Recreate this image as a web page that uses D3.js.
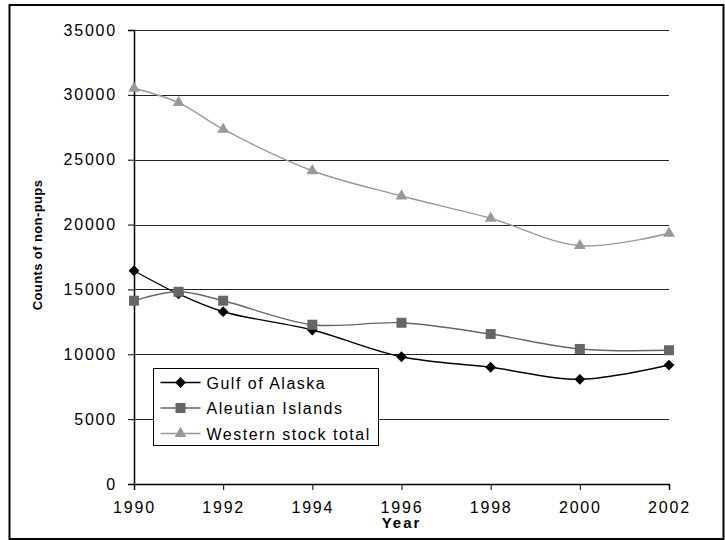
<!DOCTYPE html>
<html>
<head>
<meta charset="utf-8">
<script src="https://cdn.jsdelivr.net/npm/d3@7"></script>
<style>
  body { margin: 0; background: #fff; }
  svg { display: block; font-family: "Liberation Sans", Arial, sans-serif; }
</style>
</head>
<body>
<div id="chart"></div>
<script>
// Data
const years = [1990, 1991, 1992, 1994, 1996, 1998, 2000, 2002];
const gulfOfAlaska = [16440, 14650, 13280, 11870, 9810, 9000, 8070, 9170];
const aleutianIslands = [14130, 14820, 14130, 12280, 12430, 11560, 10410, 10310];
const westernStockTotal = [30510, 29400, 27350, 24150, 22200, 20480, 18370, 19330];
const yTicks = [0, 5000, 10000, 15000, 20000, 25000, 30000, 35000];
const xTicks = [1990, 1992, 1994, 1996, 1998, 2000, 2002];

const series = [
    { name: 'Gulf of Alaska', values: gulfOfAlaska, color: '#000', fill: '#000', shape: 'diamond' },
    { name: 'Aleutian Islands', values: aleutianIslands, color: '#666', fill: '#666', shape: 'square' },
    { name: 'Western stock total', values: westernStockTotal, color: '#999', fill: '#999', shape: 'triangle' }
];

const W = 725, H = 540;
const margin = { top: 30, right: 56, bottom: 56, left: 134 };
const width = W - margin.left - margin.right;
const height = H - margin.top - margin.bottom;

const root = d3.select('#chart').append('svg')
    .attr('width', W)
    .attr('height', H);

// Outer frame
root.append('rect')
    .attr('x', 9.5)
    .attr('y', 5)
    .attr('width', 714)
    .attr('height', 534)
    .attr('fill', '#fff')
    .attr('stroke', '#000')
    .attr('stroke-width', 2);

const svg = root.append('g')
    .attr('transform', `translate(${margin.left},${margin.top})`);

const x = d3.scaleLinear().domain([1990, 2002]).range([0, width]);
const y = d3.scaleLinear().domain([0, 35000]).range([height, 0]);

// Grid lines
svg.append('g')
    .selectAll('line')
    .data(yTicks.filter(d => d > 0))
    .enter()
    .append('line')
    .attr('x1', 0)
    .attr('x2', width)
    .attr('y1', d => Math.round(y(d)) + 0.5)
    .attr('y2', d => Math.round(y(d)) + 0.5)
    .attr('stroke', '#222')
    .attr('stroke-width', 1);

// Y axis
const yAxis = svg.append('g')
    .call(d3.axisLeft(y).tickValues(yTicks).tickSize(6).tickPadding(11).tickFormat(d3.format('d')));
yAxis.select('.domain').attr('stroke', '#000').attr('stroke-width', 1.5);
yAxis.selectAll('.tick line').attr('stroke', '#000');
yAxis.selectAll('text')
    .style('font-size', '16px')
    .style('letter-spacing', '1.8px')
    .style('fill', '#000');

// X axis
const xAxis = svg.append('g')
    .attr('transform', `translate(0,${height})`)
    .call(d3.axisBottom(x).tickValues(xTicks).tickSize(6).tickPadding(12).tickFormat(d3.format('d')));
xAxis.select('.domain').attr('stroke', '#000').attr('stroke-width', 1.5);
xAxis.selectAll('.tick line').attr('stroke', '#000');
xAxis.selectAll('text')
    .style('font-size', '16px')
    .style('letter-spacing', '1.8px')
    .style('fill', '#000');

// Axis titles
svg.append('text')
    .attr('x', x(1996))
    .attr('y', height + 44)
    .attr('text-anchor', 'middle')
    .style('font-size', '15px')
    .style('font-weight', 'bold')
    .style('letter-spacing', '2px')
    .text('Year');

svg.append('text')
    .attr('transform', 'rotate(-90)')
    .attr('x', -(245 - margin.top))
    .attr('y', -92)
    .attr('text-anchor', 'middle')
    .style('font-size', '13px')
    .style('font-weight', 'bold')
    .style('letter-spacing', '0.4px')
    .text('Counts of non-pups');

// Line generator
const line = d3.line()
    .x((d, i) => x(years[i]))
    .y(d => y(d))
    .curve(d3.curveCatmullRom.alpha(0.5));

const symbols = {
    diamond: d3.symbol().type(d3.symbolSquare).size(58),
    square: d3.symbol().type(d3.symbolSquare).size(100),
    triangle: d3.symbol().type(d3.symbolTriangle).size(60)
};

series.forEach(s => {
    svg.append('path')
        .datum(s.values)
        .attr('d', line)
        .attr('fill', 'none')
        .attr('stroke', s.color)
        .attr('stroke-width', 1.4);

    svg.append('g')
        .selectAll('path')
        .data(s.values)
        .enter()
        .append('path')
        .attr('d', symbols[s.shape])
        .attr('transform', (d, i) => `translate(${x(years[i])},${y(d)})` + (s.shape === 'diamond' ? ' rotate(45)' : ''))
        .attr('fill', s.fill);
});

// Legend
const legend = root.append('g')
    .attr('transform', 'translate(153.5,368.5)');

legend.append('rect')
    .attr('width', 225)
    .attr('height', 77)
    .attr('fill', '#fff')
    .attr('stroke', '#000')
    .attr('stroke-width', 1);

series.forEach((s, i) => {
    const item = legend.append('g')
        .attr('transform', `translate(0, ${14 + i * 25.5})`);

    item.append('line')
        .attr('x1', 7)
        .attr('x2', 47)
        .attr('y1', 0)
        .attr('y2', 0)
        .attr('stroke', s.color)
        .attr('stroke-width', 1.4);

    item.append('path')
        .attr('d', symbols[s.shape])
        .attr('transform', `translate(27,0)` + (s.shape === 'diamond' ? ' rotate(45)' : ''))
        .attr('fill', s.fill);

    item.append('text')
        .attr('x', 53)
        .attr('y', 6)
        .style('font-size', '16px')
        .style('letter-spacing', '1.5px')
        .text(s.name);
});
</script>
</body>
</html>
